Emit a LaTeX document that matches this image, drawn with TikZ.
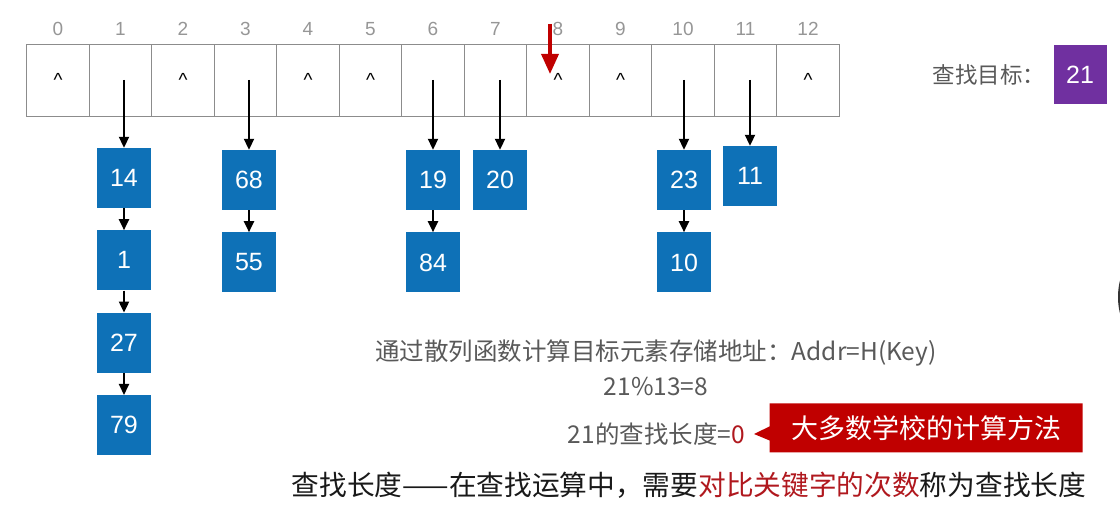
\documentclass[tikz,border=0pt]{standalone}
\usepackage{fontspec}
\setmainfont{Noto Sans CJK SC}
\newfontfamily\latinfont{Liberation Sans}
\usepackage{tikz}
\usepackage{xcolor}
\usetikzlibrary{shapes.callouts, arrows.meta, positioning}

\definecolor{keyblue}{RGB}{14,113,183}
\definecolor{goalpurple}{RGB}{112,48,160}
\definecolor{hintred}{RGB}{192,0,0}
\definecolor{textred}{RGB}{176,24,30}
\definecolor{textgray}{RGB}{89,89,89}
\definecolor{idxgray}{RGB}{150,150,150}

\tikzset{
  slot/.style={draw=black!45, line width=0.8pt, minimum width=62.5pt, minimum height=72pt,
    inner sep=0pt, outer sep=0pt, font=\latinfont\fontsize{19}{19}\selectfont},
  idx/.style={text=idxgray, inner sep=1pt, font=\latinfont\fontsize{19}{19}\selectfont},
  keybox/.style={fill=keyblue, text=white, minimum width=54pt, minimum height=60pt,
    inner sep=0pt, font=\latinfont\fontsize{25}{25}\selectfont},
  targetbox/.style={fill=goalpurple, text=white, minimum width=53pt, minimum height=59pt,
    inner sep=0pt, font=\latinfont\fontsize{25}{25}\selectfont},
  link/.style={-{Triangle[length=11pt,width=10pt]}, line width=2pt},
  redptr/.style={-{Triangle[length=20pt,width=17pt]}, line width=3.5pt, hintred},
  note/.style={text=textgray, inner sep=0pt, font=\fontsize{24.5}{28}\selectfont},
  hint/.style={rectangle callout, fill=hintred, text=white, minimum width=313pt,
    minimum height=49pt, callout pointer width=14pt, font=\fontsize{27}{30}\selectfont},
  defline/.style={text=black!90, inner sep=0pt, font=\fontsize{27.7}{32}\selectfont}
}

\begin{document}
\begin{tikzpicture}[x=1pt, y=-1pt]
\useasboundingbox (0,0) rectangle (1120,518);

% hash table with 13 slots
\foreach \i/\sym in {0/\textasciicircum, 1/{}, 2/\textasciicircum, 3/{}, 4/\textasciicircum,
    5/\textasciicircum, 6/{}, 7/{}, 8/\textasciicircum, 9/\textasciicircum, 10/{}, 11/{},
    12/\textasciicircum} {
  \node[slot] (c\i) at ({58+62.5*\i},80) {\sym};
  \node[idx, above=7pt of c\i] (n\i) {\i};
}

% chained keys
\node[keybox] (k14) at (124,178) {14};
\node[keybox, below=22pt of k14] (k1) {1};
\node[keybox, below=22pt of k1] (k27) {27};
\node[keybox, below=22pt of k27] (k79) {79};
\node[keybox] (k68) at (249,180) {68};
\node[keybox, below=22pt of k68] (k55) {55};
\node[keybox] (k19) at (433,180) {19};
\node[keybox, below=22pt of k19] (k84) {84};
\node[keybox] (k20) at (500,180) {20};
\node[keybox] (k23) at (684,180) {23};
\node[keybox, below=22pt of k23] (k10) {10};
\node[keybox] (k11) at (750,176) {11};

\foreach \s/\k in {1/k14, 3/k68, 6/k19, 7/k20, 10/k23, 11/k11}
  \draw[link] (\k |- c\s) -- (\k);
\foreach \a/\b in {k14/k1, k1/k27, k27/k79, k68/k55, k19/k84, k23/k10}
  \draw[link] (\a) -- (\b);

% address of 21
\coordinate (ptrtop) at (550,24);
\coordinate (ptrtip) at (550,74);
\draw[redptr] (ptrtop) -- (ptrtip);

% search target
\node[targetbox] (t21) at (1080,75) {21};
\node[note, left=8pt of t21, font=\fontsize{22.5}{26}\selectfont] (goal) {查找目标：};

% explanation
\node[note] (addr) at (656,353) {通过散列函数计算目标元素存储地址：Addr=H(Key)};
\node[note] (mod) at (656,387) {21\%13=8};
\node[note, anchor=east] (lenline) at (745,434) {21的查找长度=\textcolor{textred}{0}};
\coordinate[right=9pt of lenline] (hinttip);
\node[hint, callout absolute pointer={(hinttip)}] (hint) at (926,428) {大多数学校的计算方法};
\node[defline] (def) at (689,485) {查找长度——在查找运算中，需要\textcolor{textred}{对比关键字的次数}称为查找长度};

% slide edge
\begin{scope}
\clip (0,0) rectangle (1120,518);
\fill[black!80] (1187,297) circle[radius=69pt];
\end{scope}
\end{tikzpicture}
\end{document}
